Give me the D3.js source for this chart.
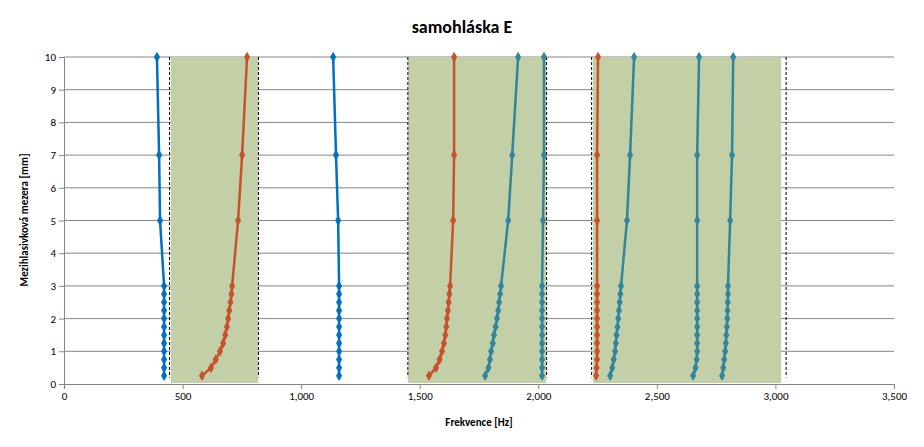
<!DOCTYPE html><html><head><meta charset="utf-8"><script src="https://cdn.jsdelivr.net/npm/d3@7"></script>
<style>body{margin:0;background:#fff}text{font-family:Calibri,'Liberation Sans',Arial,sans-serif}</style></head><body><svg id="c" width="924" height="447"></svg><script>
const yVals=[0.25,0.5,0.75,1,1.25,1.5,1.75,2,2.25,2.5,2.75,3,5,7,10];
const blue1=[422,422,422,422,422,422,422,422,422,422,422,422,405,401,392];
const red1=[582,620,640,658,671,680,687,692,697,702,706,709,734,751,772];
const blue2=[1160,1160,1160,1160,1160,1160,1160,1160,1160,1160,1160,1160,1156,1147,1135];
const red2=[1539,1569,1584,1594,1602,1608,1612,1615,1619,1622,1625,1628,1641,1645,1645];
const teal1=[1776,1790,1796,1801,1808,1813,1820,1826,1831,1835,1839,1843,1873,1890,1915];
const teal2=[2016,2016,2016,2016,2016,2016,2016,2016,2016,2016,2016,2016,2020,2024,2024];
const red3=[2244,2246,2248,2248,2248,2248,2248,2248,2248,2248,2248,2248,2248,2248,2252];
const teal3=[2303,2312,2318,2324,2327,2330,2334,2337,2340,2343,2346,2349,2374,2387,2404];
const teal4=[2653,2663,2668,2670,2670,2670,2670,2670,2670,2670,2670,2670,2670,2670,2678];
const teal5=[2775,2780,2784,2788,2791,2793,2795,2797,2798,2799,2800,2800,2809,2817,2822];
const series=[[blue1,'#0070C0'],[red1,'#C8502A'],[blue2,'#0070C0'],[red2,'#C8502A'],[teal1,'#31859C'],[teal2,'#31859C'],[red3,'#C8502A'],[teal3,'#31859C'],[teal4,'#31859C'],[teal5,'#31859C']];
const bands=[[450,818],[1451,2033],[2231,3024]];
const dashes=[445,820,1450,2035,2225,3045];
const xTicks=[0,500,1000,1500,2000,2500,3000,3500];
const yTicks=[0,1,2,3,4,5,6,7,8,9,10];
const svg=d3.select('#c');
const x=d3.scaleLinear().domain([0,3500]).range([64,894]);
const y=d3.scaleLinear().domain([0,10]).range([384,57]);
svg.append('g').selectAll('line').data(yTicks.slice(1)).join('line').attr('x1',64).attr('x2',894).attr('y1',d=>y(d)).attr('y2',d=>y(d)).attr('stroke','#868686');
svg.append('g').selectAll('rect').data(bands).join('rect').attr('x',d=>x(d[0])).attr('width',d=>x(d[1])-x(d[0])).attr('y',y(10)).attr('height',y(0)-y(10)-1).attr('fill','#C3CFA7');
svg.append('g').selectAll('line').data(dashes).join('line').attr('x1',d=>x(d)).attr('x2',d=>x(d)).attr('y1',y(10)).attr('y2',y(0.2)).attr('stroke','#000').attr('stroke-dasharray','3,2');
const xa=svg.append('g').attr('transform','translate(0,384)').call(d3.axisBottom(x).tickValues(xTicks).tickSize(5).tickSizeOuter(0));
const ya=svg.append('g').attr('transform','translate(64,0)').call(d3.axisLeft(y).tickValues(yTicks).tickSize(5).tickSizeOuter(0));
[xa,ya].forEach(a=>{a.selectAll('path,line').attr('stroke','#868686');a.selectAll('text').attr('font-size',11).attr('fill','#000');});
const line=d3.line().x(d=>x(d[0])).y(d=>y(d[1]));
const sym=d3.symbol().type(d3.symbolDiamond).size(32);
series.forEach(([v,c])=>{
 const pts=v.map((f,i)=>[f,yVals[i]]);
 svg.append('path').datum(pts).attr('d',line).attr('fill','none').attr('stroke',c).attr('stroke-width',2.5);
 svg.append('g').selectAll('path').data(pts).join('path').attr('d',sym).attr('transform',d=>`translate(${x(d[0])},${y(d[1])})`).attr('fill',c);
});
svg.append('text').attr('x',462).attr('y',33).attr('text-anchor','middle').attr('font-size',18).attr('font-weight','bold').text('samohláska E');
svg.append('text').attr('x',479).attr('y',426).attr('text-anchor','middle').attr('font-size',11).attr('font-weight','bold').text('Frekvence  [Hz]');
svg.append('text').attr('transform','translate(28,220) rotate(-90)').attr('text-anchor','middle').attr('font-size',11).attr('font-weight','bold').text('Mezihlasivková  mezera [mm]');
</script></body></html>
